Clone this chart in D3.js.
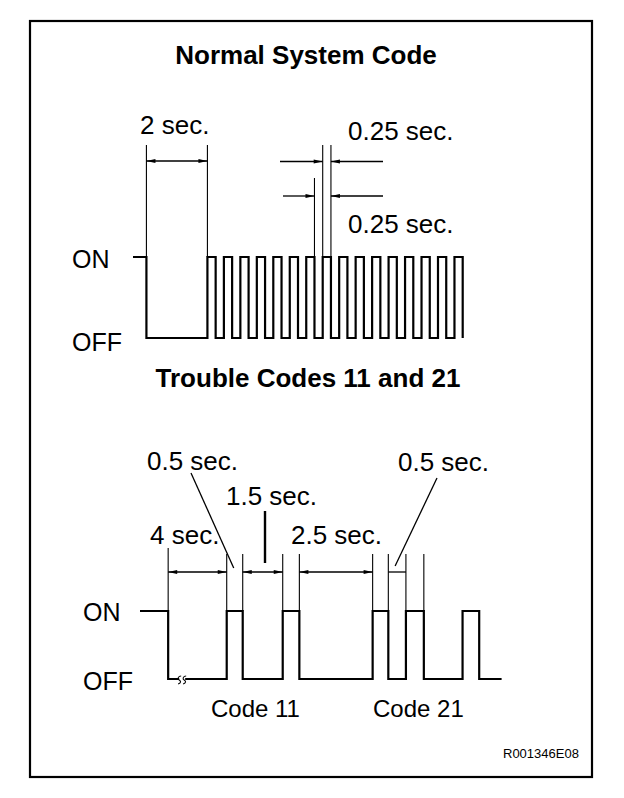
<!DOCTYPE html>
<html><head><meta charset="utf-8">
<script src="https://cdn.jsdelivr.net/npm/d3@7"></script>
<style>
html,body{margin:0;padding:0;background:#fff;}
svg text{font-family:"Liberation Sans",Arial,Helvetica,sans-serif;fill:#000;}
</style></head>
<body>
<svg id="chart" width="624" height="798"></svg>
<script>
// ---------- data ----------
const titles = ["Normal System Code", "Trouble Codes 11 and 21"];
const levelLabels = ["ON", "OFF"];
const codeLabels = ["Code 11", "Code 21"];
const figureId = "R001346E08";
// top waveform: level per segment (1 = ON, 0 = OFF) and drawn duration (s)
const topLevels = [1,0,1,0,1,0,1,0,1,0,1,0,1,0,1,0,1,0,1,0,1,0,1,0,1,0,1,0,1,0,1,0,1,0];
const topDurations = [0.44,2.0,0.27,0.27,0.27,0.27,0.27,0.27,0.27,0.27,0.27,0.27,0.27,0.27,0.27,0.27,0.27,0.27,0.27,0.27,0.27,0.27,0.27,0.27,0.27,0.27,0.27,0.27,0.27,0.27,0.27,0.27,0.27,0];
const topDimLabels = ["2 sec.", "0.25 sec.", "0.25 sec."];
// bottom waveform (drawn durations, not to scale in original diagram)
const botLevels = [1,0,1,0,1,0,1,0,1,0,1,0];
const botDurations = [0.88,1.83,0.5,1.25,0.52,2.29,0.49,0.55,0.56,1.21,0.52,0.7];
const botDimLabels = ["0.5 sec.", "1.5 sec.", "4 sec.", "2.5 sec.", "0.5 sec."];

// ---------- helpers ----------
const svg = d3.select("#chart");
function edges(durs){ const e=[]; let t=0; durs.forEach(d=>{t+=d; e.push(t);}); return e; }
function stepPath(levels, durs, x, y){
  const pts=[]; let t=0;
  levels.forEach((lv,i)=>{
    pts.push([x(t),y(lv)]);
    t+=durs[i];
    pts.push([x(t),y(lv)]);
  });
  return d3.line()(pts);
}
// arrowhead with tip at (x,y); dir = +1 points right, -1 points left
function arrow(x, y, dir){
  svg.append("path")
    .attr("d",`M${x},${y}L${x-dir*9},${y-1.9}L${x-dir*9},${y+1.9}Z`)
    .attr("fill","#000");
}

// frame
svg.append("rect").attr("x",30).attr("y",21).attr("width",562).attr("height",756)
  .attr("fill","none").attr("stroke","#000").attr("stroke-width",2.2);

// titles
svg.append("text").attr("x",306).attr("y",64).attr("text-anchor","middle")
  .attr("font-size",26).attr("font-weight","bold").text(titles[0]);
svg.append("text").attr("x",308).attr("y",387).attr("text-anchor","middle")
  .attr("font-size",26).attr("font-weight","bold").text(titles[1]);

// ---------- top waveform ----------
const tEdges = edges(topDurations);
const tx = d3.scaleLinear().domain([0, d3.sum(topDurations)]).range([133, 462.7]);
const ty = d3.scaleOrdinal().domain([1,0]).range([257, 338]);
svg.append("path").attr("d", stepPath(topLevels, topDurations, tx, ty))
  .attr("fill","none").attr("stroke","#000").attr("stroke-width",2.2);
svg.append("text").attr("x",72).attr("y",268).attr("font-size",25).text(levelLabels[0]);
svg.append("text").attr("x",72).attr("y",351).attr("font-size",25).text(levelLabels[1]);

// top extension lines: [edge index, top y]
const topExt = [[0,145],[1,145],[14,178],[15,145],[16,145]];
svg.append("g").selectAll("line").data(topExt).join("line")
  .attr("x1",d=>tx(tEdges[d[0]])).attr("x2",d=>tx(tEdges[d[0]]))
  .attr("y1",d=>d[1]).attr("y2",ty(1))
  .attr("stroke","#000").attr("stroke-width",1.1);
// 2 sec dimension
svg.append("line").attr("x1",tx(tEdges[0])).attr("x2",tx(tEdges[1])).attr("y1",161).attr("y2",161)
  .attr("stroke","#000").attr("stroke-width",1.3);
arrow(tx(tEdges[0]),161,-1); arrow(tx(tEdges[1]),161,1);
svg.append("text").attr("x",140).attr("y",134).attr("font-size",26).text(topDimLabels[0]);
// 0.25 sec dims (outside arrows): [free end x, edge index, y]
const outside = [[280,15,161.5],[383,16,161.5],[283,14,196],[383,16,196]];
outside.forEach(d=>{
  const xe = tx(tEdges[d[1]]);
  svg.append("line").attr("x1",d[0]).attr("x2",xe).attr("y1",d[2]).attr("y2",d[2])
    .attr("stroke","#000").attr("stroke-width",1.3);
  arrow(xe, d[2], d[0] < xe ? 1 : -1);
});
svg.append("text").attr("x",348).attr("y",140).attr("font-size",26).text(topDimLabels[1]);
svg.append("text").attr("x",348).attr("y",233).attr("font-size",26).text(topDimLabels[2]);

// ---------- bottom waveform ----------
const bEdges = edges(botDurations);
const bx = d3.scaleLinear().domain([0, d3.sum(botDurations)]).range([140, 501.6]);
const by = d3.scaleOrdinal().domain([1,0]).range([611, 679]);
svg.append("path").attr("d", stepPath(botLevels, botDurations, bx, by))
  .attr("fill","none").attr("stroke","#000").attr("stroke-width",2.2);
svg.append("text").attr("x",83).attr("y",621).attr("font-size",25).text(levelLabels[0]);
svg.append("text").attr("x",83).attr("y",690).attr("font-size",25).text(levelLabels[1]);
// break mark on the 4 sec OFF line
const bk = bx(bEdges[0]) + 10;
svg.append("rect").attr("x",bk+1).attr("y",677).attr("width",6).attr("height",4).attr("fill","#fff");
svg.append("path")
  .attr("d",`M${bk},684 c3,-1 3,-3 1,-4 c-2,-1 -1,-4 2,-4 M${bk+5},684 c3,-1 3,-3 1,-4 c-2,-1 -1,-4 2,-4`)
  .attr("fill","none").attr("stroke","#000").attr("stroke-width",1.1);

// extension lines
const botExt = [0,1,2,3,4,5,6,7,8];
svg.append("g").selectAll("line").data(botExt).join("line")
  .attr("x1",i=>bx(bEdges[i])).attr("x2",i=>bx(bEdges[i]))
  .attr("y1",i=>i===0?548:554).attr("y2",by(1))
  .attr("stroke","#000").attr("stroke-width",1.1);
// dimension lines with arrows: [from edge, to edge]
const botDims = [[0,1],[2,3],[4,5]];
botDims.forEach(d=>{
  const x1 = bx(bEdges[d[0]]), x2 = bx(bEdges[d[1]]);
  svg.append("line").attr("x1",x1).attr("x2",x2).attr("y1",572).attr("y2",572)
    .attr("stroke","#000").attr("stroke-width",1.3);
  arrow(x1,572,-1); arrow(x2,572,1);
});
svg.append("line").attr("x1",bx(bEdges[6])).attr("x2",bx(bEdges[7])).attr("y1",572).attr("y2",572)
  .attr("stroke","#000").attr("stroke-width",1.3);

// leaders
svg.append("line").attr("x1",191).attr("y1",473).attr("x2",(bx(bEdges[1])+bx(bEdges[2]))/2-1).attr("y2",568)
  .attr("stroke","#000").attr("stroke-width",1.3);
svg.append("line").attr("x1",437).attr("y1",478).attr("x2",(bx(bEdges[6])+bx(bEdges[7]))/2-2).attr("y2",566)
  .attr("stroke","#000").attr("stroke-width",1.3);
svg.append("line").attr("x1",265).attr("x2",265).attr("y1",511).attr("y2",563)
  .attr("stroke","#000").attr("stroke-width",2.4);

// bottom labels
const botLabelPos = [[147,470],[226,505],[150,544],[291,544],[398,471]];
svg.append("g").selectAll("text").data(botDimLabels).join("text")
  .attr("x",(d,i)=>botLabelPos[i][0]).attr("y",(d,i)=>botLabelPos[i][1])
  .attr("font-size",26).text(d=>d);
svg.append("text").attr("x",211).attr("y",717).attr("font-size",24).text(codeLabels[0]);
svg.append("text").attr("x",373).attr("y",717).attr("font-size",24).text(codeLabels[1]);
svg.append("text").attr("x",503).attr("y",758).attr("font-size",13).text(figureId);
</script>
</body></html>
